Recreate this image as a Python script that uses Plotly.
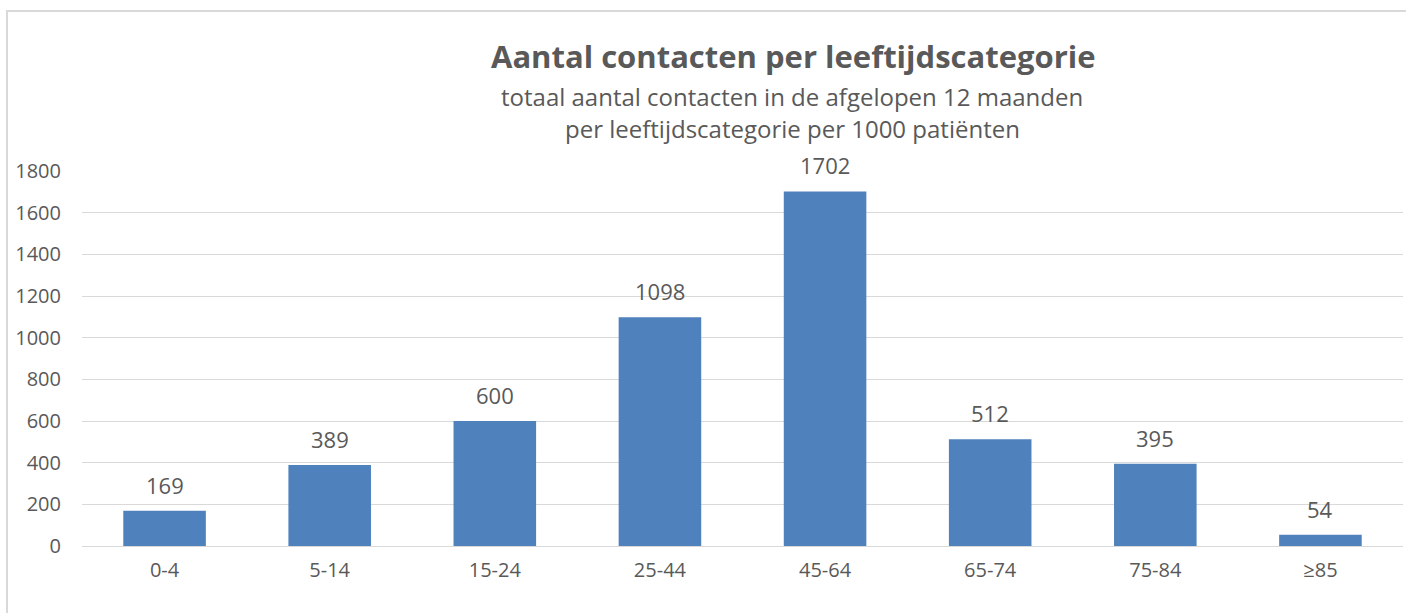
import plotly.graph_objects as go

categories = ["0-4", "5-14", "15-24", "25-44", "45-64", "65-74", "75-84", "≥85"]
values = [169, 389, 600, 1098, 1702, 512, 395, 54]
y_ticks = [0, 200, 400, 600, 800, 1000, 1200, 1400, 1600, 1800]

title = "Aantal contacten per leeftijdscategorie"
subtitle_1 = "totaal aantal contacten in de afgelopen 12 maanden"
subtitle_2 = "per leeftijdscategorie per 1000 patiënten"

W, H = 1406, 613
L, R, T, B = 82, 3, 171, 67
FONT = "'Open Sans', sans-serif"
GRAY = "#595959"

fig = go.Figure(go.Bar(
    x=categories, y=values,
    marker=dict(color="#4F81BD", line=dict(width=0)),
    hoverinfo="x+y",
))

pw = W - L - R
ph = H - T - B

def px2paper_x(px):
    return (px - L) / pw

def px2paper_y(py):
    return (H - B - py) / ph

annotations = [
    dict(text=f"<b>{title}</b>", xref="paper", yref="paper",
         x=px2paper_x(793), y=px2paper_y(56), showarrow=False,
         xanchor="center", yanchor="middle",
         font=dict(family=FONT, size=31, color=GRAY)),
    dict(text=subtitle_1, xref="paper", yref="paper",
         x=px2paper_x(792), y=px2paper_y(96), showarrow=False,
         xanchor="center", yanchor="middle",
         font=dict(family=FONT, size=24, color=GRAY)),
    dict(text=subtitle_2, xref="paper", yref="paper",
         x=px2paper_x(792), y=px2paper_y(129), showarrow=False,
         xanchor="center", yanchor="middle",
         font=dict(family=FONT, size=24, color=GRAY)),
]
for c, v in zip(categories, values):
    annotations.append(dict(
        text=str(v), x=c, y=v, xref="x", yref="y", showarrow=False,
        xanchor="center", yanchor="middle", yshift=26,
        font=dict(family=FONT, size=22, color=GRAY)))

fig.update_layout(
    width=W, height=H,
    margin=dict(l=L, r=R, t=T, b=B),
    paper_bgcolor="white", plot_bgcolor="white",
    bargap=0.5, showlegend=False,
    font=dict(family=FONT, color=GRAY),
    xaxis=dict(showgrid=False, showline=True, linecolor="#D9D9D9", linewidth=1,
               ticks="", tickfont=dict(size=20, color=GRAY), ticklabelstandoff=6),
    yaxis=dict(range=[0, 1800], tickvals=y_ticks, showgrid=True, gridcolor="#D9D9D9",
               gridwidth=1, zeroline=False, showline=False, ticks="",
               tickfont=dict(size=20, color=GRAY), ticklabelstandoff=20),
    shapes=[dict(type="rect", xref="paper", yref="paper",
                 x0=px2paper_x(7), x1=px2paper_x(1420),
                 y0=px2paper_y(640), y1=px2paper_y(11),
                 line=dict(color="#D9D9D9", width=2), layer="below")],
    annotations=annotations,
)

fig.write_html("out.html", config={"displayModeBar": False},
               post_script="document.body.style.margin='0px';document.body.style.overflow='hidden';")
